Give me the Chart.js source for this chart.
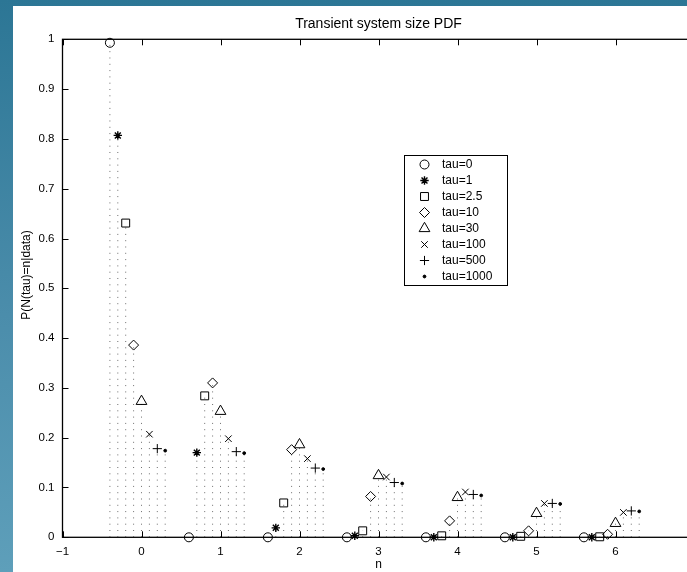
<!DOCTYPE html>
<html>
<head>
<meta charset="utf-8">
<title>Transient system size PDF</title>
<script src="https://cdn.jsdelivr.net/npm/chart.js@4.4.1/dist/chart.umd.min.js"></script>
<style>
  html, body { margin: 0; padding: 0; width: 687px; height: 572px; overflow: hidden; }
  body { position: relative; background: linear-gradient(180deg, #2c7695 0%, #4b8dab 55%, #5e9fba 100%); }
  #paper { position: absolute; left: 13px; top: 6px; right: 0; bottom: 0; background: #fff; }
  #wrap { position: absolute; left: 0; top: 0; width: 712px; height: 572px; }
</style>
</head>
<body>
<div id="paper"></div>
<div id="wrap"><canvas id="pdf-chart" width="712" height="572"></canvas></div>
<script>
'use strict';

/* DATA */
let nValues = [0, 1, 2, 3, 4, 5, 6];
let tauLabels = ['tau=0', 'tau=1', 'tau=2.5', 'tau=10', 'tau=30', 'tau=100', 'tau=500', 'tau=1000'];
// each tau is plotted a little left/right of its n
let tauShift = [-0.4, -0.3, -0.2, -0.1, 0, 0.1, 0.2, 0.3];
let xTicks = [-1, 0, 1, 2, 3, 4, 5, 6, 7];

let pTau0 = [0.993, 0, 0, 0, 0, 0, 0];
let pTau1 = [0.807, 0.170, 0.019, 0.003, 0, 0, 0];
let pTau2_5 = [0.631, 0.284, 0.069, 0.013, 0.003, 0.002, 0.001];
let pTau10 = [0.386, 0.310, 0.176, 0.082, 0.033, 0.013, 0.006];
let pTau30 = [0.273, 0.253, 0.186, 0.124, 0.080, 0.048, 0.028];
let pTau100 = [0.207, 0.198, 0.158, 0.121, 0.091, 0.068, 0.050];
let pTau500 = [0.178, 0.172, 0.139, 0.110, 0.086, 0.068, 0.053];
let pTau1000 = [0.174, 0.169, 0.137, 0.108, 0.084, 0.067, 0.052];

let allSeries = [pTau0, pTau1, pTau2_5, pTau10, pTau30, pTau100, pTau500, pTau1000];

/* MARKER STYLES (matlab-ish) */
let markers = [
  { pointStyle: 'circle', radius: 4.5, fill: false, lw: 1 },
  { pointStyle: 'star', radius: 4.2, fill: false, lw: 1.4 },
  { pointStyle: 'rect', radius: 5.6, fill: false, lw: 1 },
  { pointStyle: 'rectRot', radius: 5, fill: false, lw: 1 },
  { pointStyle: 'triangle', radius: 6.2, fill: false, lw: 1 },
  { pointStyle: 'crossRot', radius: 4.6, fill: false, lw: 1 },
  { pointStyle: 'cross', radius: 4.6, fill: false, lw: 1 },
  { pointStyle: 'circle', radius: 1.4, fill: true, lw: 1 },
];

const FONT = '"Liberation Sans", Arial, Helvetica, sans-serif';
Chart.defaults.font.family = FONT;
Chart.defaults.color = '#000000';

/* BUILD DATASETS */
function buildStems() {
  let pts = [];
  allSeries.forEach((vals, s) => {
    vals.forEach((v, i) => {
      let x = nValues[i] + tauShift[s];
      pts.push({ x: x, y: 0 }, { x: x, y: v }, { x: x, y: null });
    });
  });
  return {
    label: 'stems',
    data: pts,
    showLine: true,
    spanGaps: false,
    borderColor: '#6e6e6e',
    borderWidth: 1,
    borderDash: [1, 5.3],
    pointRadius: 0,
    pointHoverRadius: 0,
    order: 5,
  };
}

function buildMarkers() {
  return allSeries.map((vals, s) => {
    let m = markers[s];
    return {
      label: tauLabels[s],
      data: vals.map((v, i) => ({ x: nValues[i] + tauShift[s], y: v })),
      showLine: false,
      pointStyle: m.pointStyle,
      pointRadius: m.radius,
      pointHoverRadius: m.radius,
      borderColor: '#000000',
      backgroundColor: m.fill ? '#000000' : 'rgba(0,0,0,0)',
      pointBorderWidth: m.lw,
      clip: false,
      order: 1,
    };
  });
}

/* AXES BOX, INWARD TICKS, Y LABEL, LEGEND */
const matlabAxes = {
  id: 'matlabAxes',
  afterDraw(chart) {
    let ctx = chart.ctx;
    let area = chart.chartArea;
    let xs = chart.scales.x;
    let ys = chart.scales.y;
    let tick = 6;
    ctx.save();
    ctx.strokeStyle = '#000000';
    ctx.lineWidth = 1;
    ctx.beginPath();
    xTicks.forEach((t) => {
      let px = Math.round(xs.getPixelForValue(t)) + 0.5;
      ctx.moveTo(px, area.bottom);
      ctx.lineTo(px, area.bottom - tick);
      ctx.moveTo(px, area.top);
      ctx.lineTo(px, area.top + tick);
    });
    ys.ticks.forEach((t) => {
      let py = Math.round(ys.getPixelForValue(t.value)) + 0.5;
      ctx.moveTo(area.left, py);
      ctx.lineTo(area.left + tick, py);
      ctx.moveTo(area.right, py);
      ctx.lineTo(area.right - tick, py);
    });
    ctx.stroke();
    ctx.lineWidth = 1.3;
    ctx.strokeRect(area.left, area.top, area.right - area.left, area.bottom - area.top);

    // y label (matlab puts it a bit above the middle)
    ctx.save();
    ctx.translate(27, 275);
    ctx.rotate(-Math.PI / 2);
    ctx.font = '12px ' + FONT;
    ctx.textAlign = 'center';
    ctx.textBaseline = 'middle';
    ctx.fillStyle = '#000000';
    ctx.fillText('P(N(tau)=n|data)', 0, 0);
    ctx.restore();

    // legend box
    let lx = 404, ly = 155, lw = 103, lh = 130;
    ctx.fillStyle = '#ffffff';
    ctx.fillRect(lx, ly, lw, lh);
    ctx.lineWidth = 1;
    ctx.strokeRect(lx + 0.5, ly + 0.5, lw, lh);
    ctx.font = '12px ' + FONT;
    ctx.textBaseline = 'middle';
    ctx.textAlign = 'left';
    tauLabels.forEach((lab, s) => {
      let rowY = ly + 9.5 + s * 16;
      let m = markers[s];
      ctx.fillStyle = m.fill ? '#000000' : 'rgba(0,0,0,0)';
      ctx.strokeStyle = '#000000';
      ctx.lineWidth = m.lw;
      Chart.helpers.drawPoint(ctx, {
        pointStyle: m.pointStyle,
        radius: m.radius,
        rotation: 0,
        borderWidth: m.lw,
      }, lx + 20.5, rowY);
      ctx.fillStyle = '#000000';
      ctx.fillText(lab, lx + 38, rowY + 0.5);
    });
    ctx.restore();
  },
};

function renderChart() {
  let canvasElem = document.getElementById('pdf-chart').getContext('2d');
  let chartObj = {
    type: 'scatter',
    data: {
      datasets: [buildStems()].concat(buildMarkers()),
    },
    options: {
      responsive: false,
      animation: false,
      events: [],
      layout: {
        padding: { left: 0, right: 17.5, top: 0, bottom: 0 },
      },
      plugins: {
        legend: { display: false },
        tooltip: { enabled: false },
        title: {
          display: true,
          text: 'Transient system size PDF',
          fullSize: false,
          color: '#000000',
          font: { size: 14, weight: 'normal', family: FONT },
          padding: { top: 16, bottom: 6.5 },
        },
      },
      scales: {
        x: {
          type: 'linear',
          min: -1,
          max: 7,
          afterBuildTicks: (scale) => {
            scale.ticks = xTicks.map((v) => ({ value: v }));
          },
          afterFit: (scale) => {
            scale.height = 34.7;
          },
          grid: { display: false, drawTicks: false },
          border: { display: false },
          ticks: {
            padding: 7.5,
            maxRotation: 0,
            autoSkip: false,
            font: { size: 11.5 },
            color: '#000000',
            callback: (v) => (v < 0 ? '\u2212' + Math.abs(v) : String(v)),
          },
          title: {
            display: true,
            text: 'n',
            font: { size: 12 },
            color: '#000000',
            padding: { top: 0, bottom: 0.5 },
          },
        },
        y: {
          type: 'linear',
          min: 0,
          max: 1,
          afterFit: (scale) => {
            scale.width = 62.5;
          },
          grid: { display: false, drawTicks: false },
          border: { display: false },
          ticks: {
            stepSize: 0.1,
            padding: 8,
            font: { size: 11.5 },
            color: '#000000',
            callback: (v) => {
              let r = Math.round(v * 10) / 10;
              if (r === 0) return '0';
              if (r === 1) return '1';
              return r.toFixed(1);
            },
          },
          title: { display: false },
        },
      },
    },
    plugins: [matlabAxes],
  };
  new Chart(canvasElem, chartObj);
}
renderChart();
</script>
</body>
</html>
